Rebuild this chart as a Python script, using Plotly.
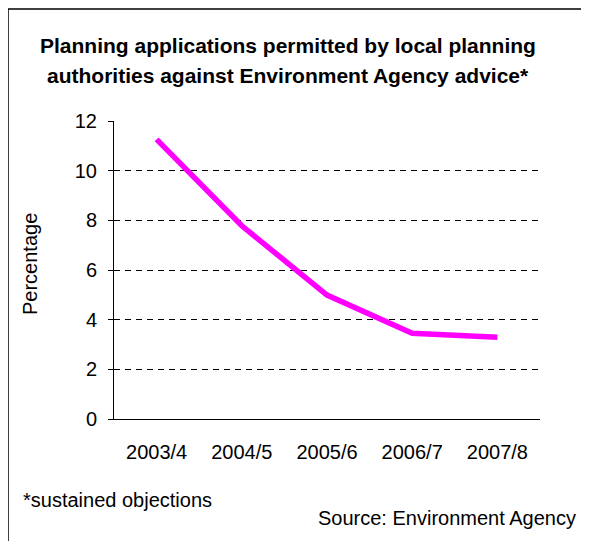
import plotly.graph_objects as go

years = ["2003/4", "2004/5", "2005/6", "2006/7", "2007/8"]
percentage = [11.26, 7.78, 4.99, 3.45, 3.29]
y_ticks = [0, 2, 4, 6, 8, 10, 12]

# page body has an 8px margin; work in reference pixel coordinates and offset
OFF = 8
W, H = 589 - OFF, 541 - OFF
L, R, T, B = 114 - OFF, 540 - OFF, 121 - OFF, 419 - OFF

def px(x):
    return (x - OFF - L) / (R - L)

def py(y):
    return (B - (y - OFF)) / (B - T)

FONT = "Liberation Sans, Arial, sans-serif"

fig = go.Figure()
fig.add_trace(go.Scatter(
    x=years, y=percentage, mode="lines",
    line=dict(color="#FF00FF", width=5.5),
    hoverinfo="x+y", showlegend=False,
))

fig.update_layout(
    width=W, height=H,
    margin=dict(l=L, r=W - R, t=T, b=H - B, pad=0),
    paper_bgcolor="white", plot_bgcolor="white",
    font=dict(family=FONT, size=20, color="black"),
    xaxis=dict(
        range=[-0.5, 4.5],
        showgrid=False, showline=True, linecolor="black", linewidth=1,
        ticks="", ticklabelstandoff=15, tickfont=dict(size=20),
        zeroline=False, fixedrange=True,
    ),
    yaxis=dict(
        range=[0, 12], tickvals=y_ticks, showgrid=True,
        gridcolor="black", gridwidth=1, griddash="6px,5px",
        showline=True, linecolor="black", linewidth=1,
        ticks="outside", ticklen=5, tickcolor="black",
        ticklabelstandoff=7, tickfont=dict(size=20),
        zeroline=False, fixedrange=True,
    ),
    shapes=[dict(
        type="path", xref="paper", yref="paper",
        path=f"M {px(8)} {py(560)} L {px(8)} {py(9)} L {px(600)} {py(9)}",
        line=dict(color="black", width=1.5),
    )],
    annotations=[
        dict(text="<b>Planning applications permitted by local planning</b>",
             x=px(288), y=py(46), xref="paper", yref="paper",
             xanchor="center", yanchor="middle", showarrow=False,
             font=dict(size=21)),
        dict(text="<b>authorities against Environment Agency advice*</b>",
             x=px(288), y=py(76), xref="paper", yref="paper",
             xanchor="center", yanchor="middle", showarrow=False,
             font=dict(size=21)),
        dict(text="Percentage", textangle=-90,
             x=px(30), y=py(264), xref="paper", yref="paper",
             xanchor="center", yanchor="middle", showarrow=False,
             font=dict(size=20)),
        dict(text="*sustained objections",
             x=px(21), y=py(500), xref="paper", yref="paper",
             xanchor="left", yanchor="middle", showarrow=False,
             font=dict(size=20)),
        dict(text="Source: Environment Agency",
             x=px(578), y=py(518), xref="paper", yref="paper",
             xanchor="right", yanchor="middle", showarrow=False,
             font=dict(size=20)),
    ],
)

fig.write_html("out.html")
